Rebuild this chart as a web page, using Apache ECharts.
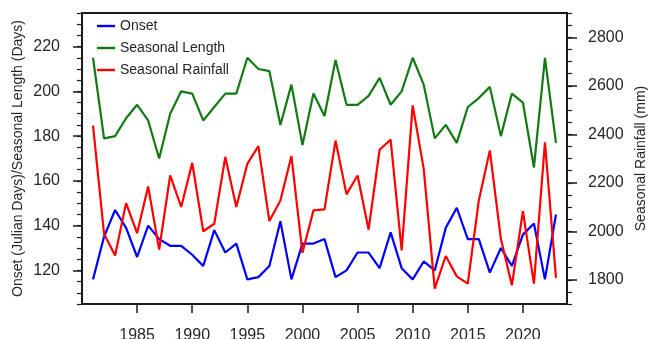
<!DOCTYPE html>
<html>
<head>
<meta charset="utf-8">
<script src="https://cdn.jsdelivr.net/npm/echarts@6/dist/echarts.min.js"></script>
<style>
html,body{margin:0;padding:0;background:#fff;}
#c{width:648px;height:339px;}
</style>
</head>
<body>
<div id="c"></div>
<script>
const years = [1981,1982,1983,1984,1985,1986,1987,1988,1989,1990,1991,1992,1993,1994,1995,1996,1997,1998,1999,2000,2001,2002,2003,2004,2005,2006,2007,2008,2009,2010,2011,2012,2013,2014,2015,2016,2017,2018,2019,2020,2021,2022,2023];
const onset = [116,135,147,139,126,140,134,131,131,127,122,138,128,132,116,117,122,142,116,132,132,134,117,120,128,128,121,137,121,116,124,120,139,148,134,134,119,130,122,136,141,116,145];
const seasonalLength = [215,179,180,188,194,187,170,190,200,199,187,193,199,199,215,210,209,185,203,176,199,189,214,194,194,198,206,194,200,215,203,179,185,177,193,197,202,180,199,195,166,215,177];
const seasonalRainfall = [2436,1990,1900,2116,1992,2185,1924,2230,2100,2282,2000,2031,2306,2100,2278,2351,2042,2127,2310,1911,2086,2090,2374,2152,2230,2007,2336,2378,1921,2519,2258,1763,1898,1814,1784,2127,2333,1969,1777,2083,1784,2367,1808];
const xTicks = [1985,1990,1995,2000,2005,2010,2015,2020];
const leftTicks = [120,140,160,180,200,220];
const rightTicks = [1800,2000,2200,2400,2600,2800];

const FONT = 'Liberation Sans, Arial, Helvetica, sans-serif';
const TXT = '#262626';
const AX = '#1a1a1a';
const LINE_ICON = 'path://M0,0 M0,5.8 L18,5.8 L18,8.2 L0,8.2 Z M18,14';

function pairs(vals){ return years.map((y,i)=>[y, vals[i]]); }
const plain = v => String(v);

const chart = echarts.init(document.getElementById('c'), null, {renderer:'canvas'});
chart.setOption({
  animation: false,
  backgroundColor: '#fff',
  textStyle: {fontFamily: FONT},
  grid: {left: 82, right: 81, top: 13, bottom: 35, show: true, borderColor: AX, borderWidth: 2,
         backgroundColor: 'transparent', containLabel: false, outerBoundsMode: 'none'},
  legend: {
    orient: 'vertical', left: 97, top: 19, padding: 0,
    itemWidth: 18, itemHeight: 14, itemGap: 8,
    textStyle: {fontSize: 14, color: TXT, fontFamily: FONT, lineHeight: 14},
    data: [
      {name: 'Onset', icon: LINE_ICON},
      {name: 'Seasonal Length', icon: LINE_ICON},
      {name: 'Seasonal Rainfall', icon: LINE_ICON}
    ]
  },
  xAxis: {
    type: 'value', min: 1980, max: 2024,
    axisLine: {show: true, lineStyle: {color: AX, width: 2}},
    axisTick: {show: true, customValues: xTicks, length: 9, lineStyle: {color: AX, width: 1.5}},
    axisLabel: {customValues: xTicks, formatter: plain, fontSize: 16, color: TXT, margin: 24, fontFamily: FONT},
    splitLine: {show: false}
  },
  yAxis: [
    {
      type: 'value', position: 'left', min: 105, max: 235,
      name: 'Onset (Julian Days)/Seasonal Length (Days)', nameLocation: 'middle', nameGap: 57,
      nameMoveOverlap: false,
      nameTextStyle: {fontSize: 14, color: TXT, fontFamily: FONT},
      axisLine: {show: true, lineStyle: {color: AX, width: 2}},
      axisTick: {show: true, customValues: leftTicks, length: 9, lineStyle: {color: AX, width: 1.5}},
      axisLabel: {customValues: leftTicks, formatter: plain, fontSize: 16, color: TXT, margin: 22, fontFamily: FONT},
      splitLine: {show: false}
    },
    {
      type: 'value', position: 'left', min: 105, max: 235, interval: 5,
      axisLine: {show: false},
      axisTick: {show: true, length: 5, lineStyle: {color: AX, width: 1.2}},
      axisLabel: {show: false},
      splitLine: {show: false}
    },
    {
      type: 'value', position: 'right', min: 1700, max: 2900,
      name: 'Seasonal Rainfall (mm)', nameLocation: 'middle', nameGap: 67,
      nameMoveOverlap: false,
      nameTextStyle: {fontSize: 14, color: TXT, fontFamily: FONT},
      axisLine: {show: true, lineStyle: {color: AX, width: 2}},
      axisTick: {show: true, customValues: rightTicks, length: 10, lineStyle: {color: AX, width: 1.5}},
      axisLabel: {customValues: rightTicks, formatter: plain, fontSize: 16, color: TXT, margin: 21, fontFamily: FONT},
      splitLine: {show: false}
    },
    {
      type: 'value', position: 'right', min: 1700, max: 2900, interval: 50,
      axisLine: {show: false},
      axisTick: {show: true, length: 5, lineStyle: {color: AX, width: 1.2}},
      axisLabel: {show: false},
      splitLine: {show: false}
    }
  ],
  series: [
    {name: 'Onset', type: 'line', yAxisIndex: 0, data: pairs(onset), symbol: 'none',
     lineStyle: {color: '#0000ff', width: 2.2}, itemStyle: {color: '#0000ff'}},
    {name: 'Seasonal Length', type: 'line', yAxisIndex: 0, data: pairs(seasonalLength), symbol: 'none',
     lineStyle: {color: '#137a13', width: 2.2}, itemStyle: {color: '#137a13'}},
    {name: 'Seasonal Rainfall', type: 'line', yAxisIndex: 2, data: pairs(seasonalRainfall), symbol: 'none',
     lineStyle: {color: '#ff0000', width: 2.2}, itemStyle: {color: '#ff0000'}}
  ]
});
</script>
</body>
</html>
